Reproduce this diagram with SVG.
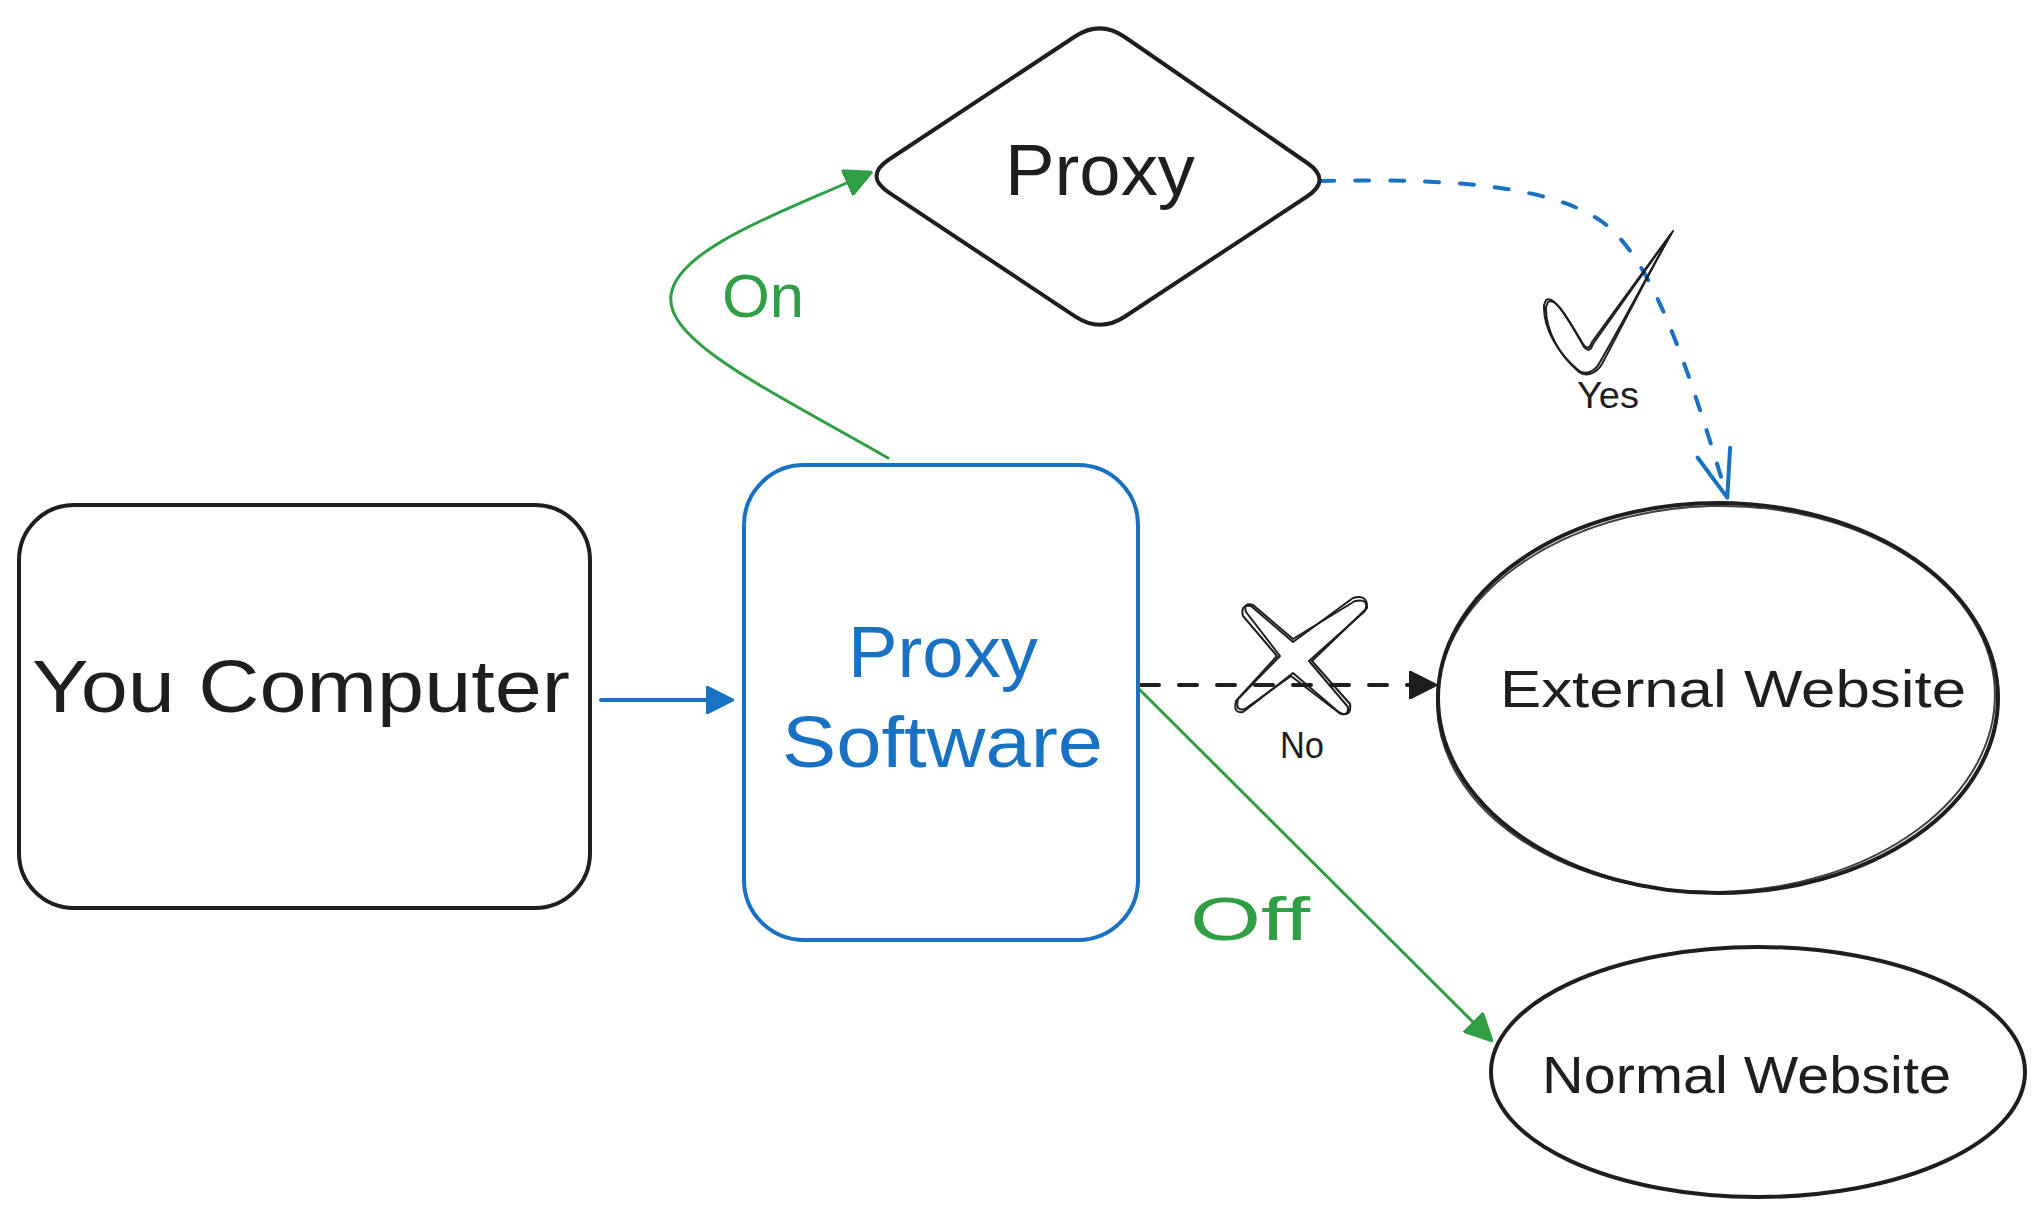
<svg xmlns="http://www.w3.org/2000/svg" width="2043" height="1216" viewBox="0 0 2043 1216">
<style>
.bg{fill:#ffffff}
.shape{fill:none;stroke:#1e1e1e;stroke-width:4;stroke-linejoin:round}
.shape2{fill:none;stroke:#1e1e1e;stroke-width:2;stroke-linejoin:round;opacity:0.85}
.blue{fill:none;stroke:#1971c2;stroke-width:4;stroke-linejoin:round}
.lbl{font-family:"Liberation Sans",Arial,sans-serif;fill:#1e1e1e}
.lblb{font-family:"Liberation Sans",Arial,sans-serif;fill:#1971c2}
.lblg{font-family:"Liberation Sans",Arial,sans-serif;fill:#2f9e44}
.c-blue{fill:none;stroke:#1971c2;stroke-width:4;stroke-linecap:round}
.c-green{fill:none;stroke:#2f9e44;stroke-width:3;stroke-linecap:round}
.c-black-dash{fill:none;stroke:#1e1e1e;stroke-width:4;stroke-linecap:round;stroke-dasharray:18 20}
.c-blue-dash{fill:none;stroke:#1971c2;stroke-width:4;stroke-linecap:round;stroke-dasharray:14 21}
.mark{fill:none;stroke:#1e1e1e;stroke-width:2;stroke-linejoin:round}
</style>
<defs>
<marker id="ah-blue" markerUnits="userSpaceOnUse" viewBox="0 0 28 28" markerWidth="28" markerHeight="28" refX="20" refY="14" orient="auto"><path d="M0,0 L28,14 L0,28 Z" fill="#1971c2" stroke="#1971c2" stroke-width="2" stroke-linejoin="round"/></marker>
<marker id="ah-green" markerUnits="userSpaceOnUse" viewBox="0 0 28 28" markerWidth="28" markerHeight="28" refX="20" refY="14" orient="auto"><path d="M0,0 L28,14 L0,28 Z" fill="#2f9e44" stroke="#2f9e44" stroke-width="2" stroke-linejoin="round"/></marker>
<marker id="ah-black" markerUnits="userSpaceOnUse" viewBox="0 0 28 28" markerWidth="28" markerHeight="28" refX="20" refY="14" orient="auto"><path d="M0,0 L28,14 L0,28 Z" fill="#1e1e1e" stroke="#1e1e1e" stroke-width="2" stroke-linejoin="round"/></marker>
<marker id="ah-open-blue" markerUnits="userSpaceOnUse" viewBox="-4 -4 60 44" markerWidth="60" markerHeight="44" refX="42" refY="17" orient="auto"><path d="M3,0 L50,17 L3,34" fill="none" stroke="#1971c2" stroke-width="4" stroke-linecap="round" stroke-linejoin="round"/></marker>
</defs>
<rect class="bg" x="0" y="0" width="2043" height="1216"/>

<g id="connectors">
<path id="c-computer-proxysw" class="c-blue" d="M601,700 L726,700" marker-end="url(#ah-blue)"/>
<path id="c-on" class="c-green" d="M888,458 C760,385 665,340 671,295 C677,250 775,215 865,175" marker-end="url(#ah-green)"/>
<path id="c-yes" class="c-blue-dash" d="M1320,181 C1450,178 1560,185 1610,228 C1650,265 1680,340 1725,490" marker-end="url(#ah-open-blue)"/>
<path id="c-no" class="c-black-dash" d="M1141,685 L1429,685" marker-end="url(#ah-black)"/>
<path id="c-off" class="c-green" d="M1138,688 L1487,1036" marker-end="url(#ah-green)"/>
</g>

<g id="node-you-computer">
<rect class="shape" x="19" y="505" width="571" height="403" rx="55" ry="55"/>
<text class="lbl" x="32" y="712" font-size="74" textLength="538" lengthAdjust="spacingAndGlyphs">You Computer</text>
</g>

<g id="node-proxy-software">
<rect class="blue" x="744" y="465" width="394" height="475" rx="60" ry="60"/>
<text class="lblb" x="848" y="677" font-size="72" textLength="190" lengthAdjust="spacingAndGlyphs">Proxy</text>
<text class="lblb" x="782" y="767" font-size="72" textLength="321" lengthAdjust="spacingAndGlyphs">Software</text>
</g>

<g id="node-proxy">
<path class="shape" d="M1075,36.5 Q1100,20 1124.7,37 L1307.3,163 Q1332,180 1307,196.5 L1125,316.5 Q1100,333 1075,316.4 L889,192.6 Q864,176 889,159.5 Z"/>
<text class="lbl" x="1005" y="195" font-size="72" textLength="190" lengthAdjust="spacingAndGlyphs">Proxy</text>
</g>

<g id="node-external-website">
<ellipse class="shape" cx="1718" cy="698" rx="280" ry="195"/>
<ellipse class="shape2" cx="1716" cy="699" rx="279" ry="193" transform="rotate(-1.5 1716 699)"/>
<text class="lbl" x="1500" y="707" font-size="52" textLength="466" lengthAdjust="spacingAndGlyphs">External Website</text>
</g>

<g id="node-normal-website">
<ellipse class="shape" cx="1758" cy="1072" rx="267" ry="125"/>
<text class="lbl" x="1542" y="1093" font-size="52" textLength="409" lengthAdjust="spacingAndGlyphs">Normal Website</text>
</g>

<g id="label-on">
<text class="lblg" x="722" y="317" font-size="62" textLength="82" lengthAdjust="spacingAndGlyphs">On</text>
</g>
<g id="label-off">
<text class="lblg" x="1190" y="940" font-size="62" textLength="120" lengthAdjust="spacingAndGlyphs">Off</text>
</g>

<g id="mark-yes">
<path class="mark" d="M1546,300 C1552,296 1560,305 1583,344 C1587,350 1590,348 1592,342 L1673,231 C1650,270 1630,310 1600,362 C1595,372 1585,376 1578,370 C1560,355 1543,330 1544,305 Z"/>
<path class="mark" d="M1548,302 C1554,298 1562,307 1584,347 C1588,352 1591,350 1593,344 L1671,234 C1649,273 1629,313 1602,364 C1596,374 1586,377 1579,372 C1561,357 1545,331 1546,307 Z"/>
<text class="lbl" x="1577" y="408" font-size="36" textLength="62" lengthAdjust="spacingAndGlyphs">Yes</text>
</g>

<g id="mark-no">
<path class="mark" d="M1293,642 L1353,598 Q1368,594 1367,608 L1312,661 L1350,704 Q1352,716 1341,714 L1293,673 L1243,712 Q1233,714 1236,701 L1277,656 L1243,616 Q1240,604 1251,606 Z"/>
<path class="mark" d="M1293,639 L1355,601 Q1370,598 1365,611 L1309,661 L1348,707 Q1349,718 1338,712 L1291,676 L1245,709 Q1235,712 1238,699 L1280,656 L1246,612 Q1243,602 1253,605 Z"/>
<text class="lbl" x="1280" y="758" font-size="36" textLength="44" lengthAdjust="spacingAndGlyphs">No</text>
</g>
</svg>
